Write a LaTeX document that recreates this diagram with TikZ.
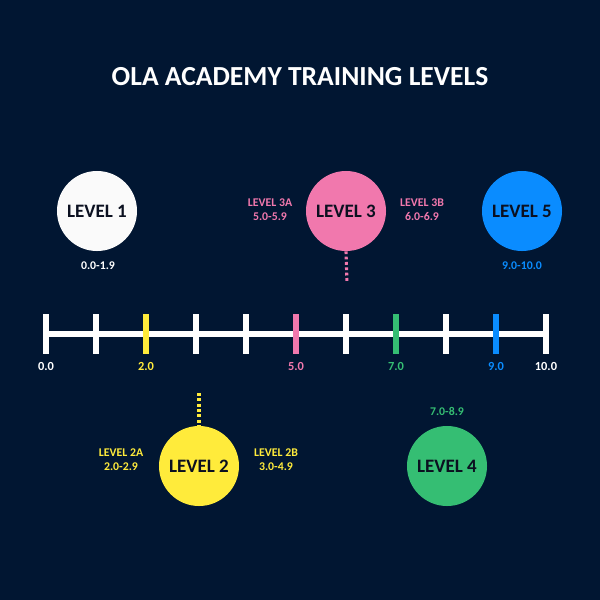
\documentclass[tikz,border=0pt]{standalone}
\usepackage{fontspec}
\setmainfont{Carlito}
\usepackage{tikz}
\usetikzlibrary{positioning}

\definecolor{navy}{HTML}{011632}
\definecolor{ink}{HTML}{0B1020}
\definecolor{lvone}{HTML}{FAFAFA}
\definecolor{lvtwo}{HTML}{FFEB3B}
\definecolor{lvthree}{HTML}{F178AD}
\definecolor{lvfour}{HTML}{35BE73}
\definecolor{lvfive}{HTML}{0A8CFF}

\tikzset{
	lvl/.style={circle, minimum size=2cm, inner sep=0pt, font=\bfseries\fontsize{13.5}{14}\selectfont, text=ink},
	tickbar/.style={rectangle, minimum width=0.15cm, minimum height=1cm, inner sep=0pt, fill=#1},
	tickbar/.default=white,
	rng/.style={font=\bfseries\fontsize{8.4}{10}\selectfont, align=center, text=#1},
	numlbl/.style={font=\bfseries\fontsize{8.8}{9}\selectfont, text=#1},
	dots/.style={draw=#1, line width=2.2pt, dash pattern=on 2pt off 1.8pt}
}

\begin{document}
\begin{tikzpicture}[x=0.025cm, y=-0.025cm]
		\fill[navy] (0,0) rectangle (600,600);
		\node[text=white, font=\bfseries\fontsize{19.6}{22}\selectfont] (title) at (300,77) {OLA ACADEMY TRAINING LEVELS};
		% number line
		\foreach \i in {0,...,10} {
			\coordinate (p\i) at ({46+50*\i},334);
		}
		\draw[white, line width=4.6pt] (p0)--(p10);
		\foreach \i in {0,1,3,4,6,8,10} {
			\node[tickbar] (t\i) at (p\i) {};
		}
		\node[tickbar=lvtwo] (t2) at (p2) {};
		\node[tickbar=lvthree] (t5) at (p5) {};
		\node[tickbar=lvfour] (t7) at (p7) {};
		\node[tickbar=lvfive] (t9) at (p9) {};
		\node[numlbl=white] at (46,366) {0.0};
		\node[numlbl=lvtwo] at (146,366) {2.0};
		\node[numlbl=lvthree] at (296,366) {5.0};
		\node[numlbl=lvfour] at (396,366) {7.0};
		\node[numlbl=lvfive] at (496,366) {9.0};
		\node[numlbl=white] at (546,366) {10.0};
		% levels
		\node[lvl, fill=lvone] (l1) at (97,211) {LEVEL 1};
		\node[lvl, fill=lvtwo] (l2) at (199,466) {LEVEL 2};
		\node[lvl, fill=lvthree] (l3) at (346,211) {LEVEL 3};
		\node[lvl, fill=lvfour] (l4) at (447,466) {LEVEL 4};
		\node[lvl, fill=lvfive] (l5) at (522,211) {LEVEL 5};
		\node[rng=white] at (98,266) {0.0-1.9};
		\node[rng=lvthree] at (270,210) {LEVEL 3A\\5.0-5.9};
		\node[rng=lvthree] at (422,210) {LEVEL 3B\\6.0-6.9};
		\node[rng=lvfive] at (522,266) {9.0-10.0};
		\node[rng=lvtwo] at (121,460) {LEVEL 2A\\2.0-2.9};
		\node[rng=lvtwo] at (276,460) {LEVEL 2B\\3.0-4.9};
		\node[rng=lvfour] at (447,411) {7.0-8.9};
		% links
		\coordinate (c3) at (347,283);
		\coordinate (c2) at (199,393);
		\draw[dots=lvthree] (l3.south)--(c3);
		\draw[dots=lvtwo] (c2)--(l2.north);
	\end{tikzpicture}
\end{document}
